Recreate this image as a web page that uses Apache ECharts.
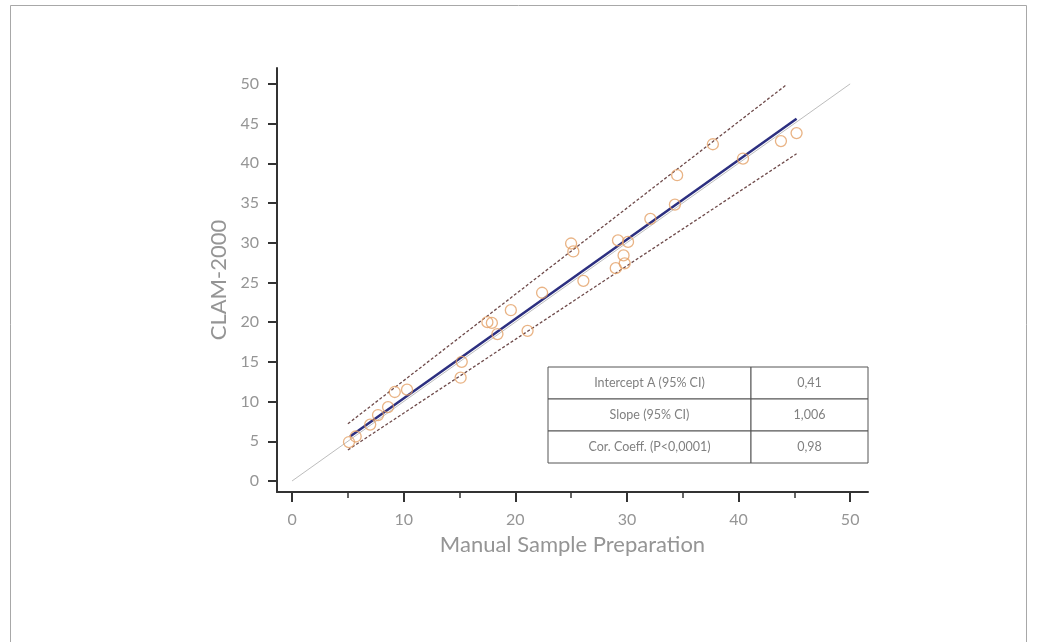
<!DOCTYPE html>
<html>
<head>
<meta charset="utf-8">
<script src="https://cdn.jsdelivr.net/npm/echarts@6/dist/echarts.min.js"></script>
<style>
  html, body { margin: 0; padding: 0; background: #fff; }
  #main { width: 1037px; height: 642px; }
</style>
</head>
<body>
<div id="main"></div>
<script>
var manualX = [5.1, 5.7, 7.0, 7.7, 8.6, 9.2, 10.3, 15.1, 15.2, 17.5, 17.9, 18.4, 19.6, 21.1, 22.4,
               25.0, 25.2, 26.1, 29.2, 29.0, 29.7, 29.8, 30.1, 32.1, 34.3, 34.5, 37.7, 40.4, 43.8, 45.2];
var clamY   = [4.9, 5.6, 7.1, 8.3, 9.3, 11.2, 11.5, 13.0, 15.0, 20.0, 19.9, 18.5, 21.5, 18.9, 23.7,
               29.9, 28.9, 25.2, 30.3, 26.8, 28.4, 27.4, 30.1, 33.0, 34.8, 38.5, 42.4, 40.6, 42.8, 43.8];

// line end points
var identityLine = [[0, 0], [50, 50]];
var fitLine      = [[5.2, 5.6], [45.2, 45.6]];
var upperBand    = [[5.0, 7.2], [44.3, 49.9]];
var lowerBand    = [[5.0, 3.9], [45.2, 41.2]];

// axis ticks
var xMajorTicks = [0, 10, 20, 30, 40, 50];
var xMinorTicks = [5, 15, 25, 35, 45];
var yTicks = [0, 5, 10, 15, 20, 25, 30, 35, 40, 45, 50];

// stats table
var statNames  = ['Intercept A (95% CI)', 'Slope (95% CI)', 'Cor. Coeff. (P<0,0001)'];
var statValues = ['0,41', '1,006', '0,98'];

var font = 'Lato, "Open Sans", sans-serif';
var textGray = '#959595';

function pairs(xs, ys) {
    var out = [];
    for (var i = 0; i < xs.length; i++) {
        out.push([xs[i], ys[i]]);
    }
    return out;
}

function tableGraphic() {
    var left = 548, top = 367, w = 320, rowH = 32, split = 751;
    var els = [];
    for (var i = 0; i < statNames.length; i++) {
        var y = top + i * rowH;
        els.push({
            type: 'rect',
            shape: { x: left, y: y, width: split - left, height: rowH },
            style: { fill: '#fff', stroke: '#555', lineWidth: 1 }
        });
        els.push({
            type: 'rect',
            shape: { x: split, y: y, width: left + w - split, height: rowH },
            style: { fill: '#fff', stroke: '#555', lineWidth: 1 }
        });
        els.push({
            type: 'text',
            x: (left + split) / 2, y: y + rowH / 2,
            style: { text: statNames[i], fill: '#808080', font: '12.5px ' + font, align: 'center', verticalAlign: 'middle' }
        });
        els.push({
            type: 'text',
            x: (split + left + w) / 2, y: y + rowH / 2,
            style: { text: statValues[i], fill: '#808080', font: '12.5px ' + font, align: 'center', verticalAlign: 'middle' }
        });
    }
    return els;
}

var myChart = echarts.init(document.getElementById('main'));

var lineStyleBand = { color: '#6e4a4a', width: 1.3, type: [3, 2] };

var option = {
    backgroundColor: '#fff',
    animation: false,
    grid: { left: 277, right: 169, top: 68, bottom: 150 },
    xAxis: [
        {
            type: 'value',
            min: -1.35, max: 51.6,
            name: 'Manual Sample Preparation',
            nameLocation: 'middle',
            nameGap: 42,
            nameTextStyle: { color: textGray, fontSize: 22, fontFamily: font },
            axisLine: { onZero: false, lineStyle: { color: '#333', width: 2 } },
            axisTick: { customValues: xMajorTicks, length: 10, lineStyle: { color: '#333', width: 2 } },
            axisLabel: { customValues: xMajorTicks, margin: 20, color: textGray, fontSize: 16, fontFamily: font },
            splitLine: { show: false }
        },
        {
            type: 'value',
            min: -1.35, max: 51.6,
            position: 'bottom',
            axisLine: { show: false, onZero: false },
            axisTick: { customValues: xMinorTicks, length: 6, lineStyle: { color: '#333', width: 1.5 } },
            axisLabel: { show: false },
            splitLine: { show: false }
        }
    ],
    yAxis: {
        type: 'value',
        min: -1.39, max: 52,
        name: 'CLAM-2000',
        nameLocation: 'middle',
        nameGap: 46,
        nameTextStyle: { color: textGray, fontSize: 22, fontFamily: font },
        axisLine: { onZero: false, lineStyle: { color: '#333', width: 2 } },
        axisTick: { customValues: yTicks, length: 9, lineStyle: { color: '#333', width: 2 } },
        axisLabel: { customValues: yTicks, margin: 18, color: textGray, fontSize: 16, fontFamily: font },
        splitLine: { show: false }
    },
    series: [
        {
            type: 'line', data: identityLine, symbol: 'none', silent: true,
            lineStyle: { color: '#bdbdbd', width: 1 }
        },
        {
            type: 'line', data: upperBand, symbol: 'none', silent: true,
            lineStyle: lineStyleBand
        },
        {
            type: 'line', data: lowerBand, symbol: 'none', silent: true,
            lineStyle: lineStyleBand
        },
        {
            type: 'line', data: fitLine, symbol: 'none', silent: true,
            lineStyle: { color: '#2c2f80', width: 2.5 }
        },
        {
            type: 'scatter',
            data: pairs(manualX, clamY),
            symbol: 'circle',
            symbolSize: 11,
            itemStyle: { color: 'rgba(0,0,0,0)', borderColor: '#e4a066', borderWidth: 1.3 },
            z: 5
        }
    ],
    graphic: [
        {
            type: 'rect',
            shape: { x: 10.5, y: 5.5, width: 1016, height: 660 },
            style: { fill: 'none', stroke: '#a8a8a8', lineWidth: 1 },
            silent: true
        }
    ].concat(tableGraphic())
};
myChart.setOption(option);
</script>
</body>
</html>
